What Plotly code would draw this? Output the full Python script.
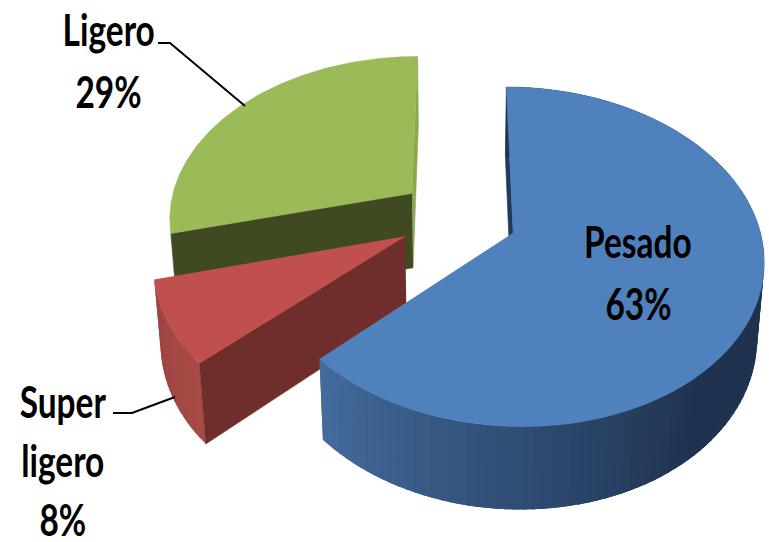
import numpy as np
import plotly.graph_objects as go

# Chart data
categories = ["Pesado", "Super ligero", "Ligero"]
percent = [63, 8, 29]
label_lines = [["Pesado"], ["Super", "ligero"], ["Ligero"]]

top_colors = ["#4f81bd", "#c0504d", "#9bbb59"]
inner_colors = ["#1f3a5c", "#6f2d2b", "#3f4922"]
edge_colors = ["#1f3a5c", "#6f2d2b", "#8aa84e"]

# Camera used to project the exploded disc onto the page
CX, CY = 458.0, 217.0
RX, RY, DEPTH = 244.0, 162.0, 77.0
K_Y, K_Z = 0.139, 0.0226
EXPLODE = 0.243


def project(xw, yw, z):
    w = 1 + K_Y * yw + K_Z * z
    return CX + RX * xw / w, CY + (-RY * yw + DEPTH * z) / w


def polygon(xs, ys, color, width=0.6):
    return go.Scatter(x=xs, y=ys, mode="lines", fill="toself", fillcolor=color,
                      line=dict(color=color, width=width), hoverinfo="skip",
                      showlegend=False)


def mix(a, b, t):
    ca = [int(a[i:i + 2], 16) for i in (1, 3, 5)]
    cb = [int(b[i:i + 2], 16) for i in (1, 3, 5)]
    return "rgb({},{},{})".format(*[round(p + (q - p) * t) for p, q in zip(ca, cb)])


# Slice angles, clockwise from the far side of the disc
total = sum(percent)
edges = np.concatenate([[0], np.cumsum(percent)]) / total * 2 * np.pi
spans = [(edges[i], edges[i + 1]) for i in range(len(percent))]


def slice_point(i, theta, radius, z):
    mid = sum(spans[i]) / 2
    xw = radius * np.sin(theta) + EXPLODE * np.sin(mid)
    yw = radius * np.cos(theta) + EXPLODE * np.cos(mid)
    return project(xw, yw, z)


def radial_face(i, theta, color):
    pts = [slice_point(i, theta, r, z) for r, z in [(0, 0), (1, 0), (1, 1), (0, 1)]]
    return polygon([p[0] for p in pts], [p[1] for p in pts], color)


def rim(i, shade):
    # Each band runs on under the next one so the seams stay closed
    start, end = spans[i]
    steps = np.linspace(start, end, int((end - start) * 30) + 2)
    gap = steps[1] - steps[0]
    quads = []
    for a in steps[:-1]:
        b = min(a + 2.2 * gap, end)
        pts = [slice_point(i, a, 1, 0), slice_point(i, b, 1, 0),
               slice_point(i, b, 1, 1), slice_point(i, a, 1, 1)]
        quads.append(polygon([p[0] for p in pts], [p[1] for p in pts], shade(a + gap / 2), 0))
    return quads


def top_face(i):
    start, end = spans[i]
    steps = np.linspace(start, end, 120)
    pts = [slice_point(i, 0, 0, 0)] + [slice_point(i, t, 1, 0) for t in steps]
    return polygon([p[0] for p in pts], [p[1] for p in pts], top_colors[i])


def blue_shade(theta):
    t = np.clip((spans[0][1] - theta) / np.radians(88), 0, 1)
    return mix("#446d9f", "#1f3350", t)


def red_shade(theta):
    t = np.clip((spans[1][1] - theta) / (spans[1][1] - spans[1][0]), 0, 1)
    return mix("#9c4441", "#a84a46", t)


traces = []
# Ligero
traces.append(radial_face(2, spans[2][1], edge_colors[2]))
traces.append(radial_face(2, spans[2][0], inner_colors[2]))
traces.append(top_face(2))
# Super ligero
traces.extend(rim(1, red_shade))
traces.append(radial_face(1, spans[1][0], inner_colors[1]))
traces.append(top_face(1))
# Pesado
traces.append(radial_face(0, spans[0][0], inner_colors[0]))
traces.extend(rim(0, blue_shade)[::-1])
traces.append(top_face(0))

# Leader lines for the labels set outside the pie
leaders_x = [[158, 170, 245], [113, 132, 175]]
leaders_y = [[43, 43, 106], [413, 413, 397]]
for lx, ly in zip(leaders_x, leaders_y):
    traces.append(go.Scatter(x=lx, y=ly, mode="lines", hoverinfo="skip", showlegend=False,
                             line=dict(color="black", width=2)))

FONT = dict(family="Lato", size=44, color="black", weight="bold")

label_anchor = [(638, 241, 62), (63, 401, 59), (108, 29, 62)]
annotations = []
for lines, pct, (ax, ay, step) in zip(label_lines, percent, label_anchor):
    for n, text in enumerate(lines + [f"{pct}%"]):
        annotations.append(dict(x=ax, y=ay + n * step, text=text, showarrow=False,
                                xanchor="center", yanchor="middle", font=FONT))

fig = go.Figure(traces)
fig.update_layout(
    width=769, height=542, margin=dict(l=0, r=0, t=0, b=0),
    paper_bgcolor="white", plot_bgcolor="white", annotations=annotations,
    xaxis=dict(range=[0, 769], visible=False, fixedrange=True),
    yaxis=dict(range=[542, 0], visible=False, fixedrange=True),
)

# Narrow the label glyphs horizontally around each label's own centre
condense = """
function condense() {
  document.querySelectorAll('.annotation-text').forEach(function (t) {
    var b = t.getBBox(), c = b.x + b.width / 2;
    t.setAttribute('transform', 'translate(' + c + ' 0) scale(0.76 1) translate(' + (-c) + ' 0)');
  });
}
condense();
setTimeout(condense, 0);
document.fonts && document.fonts.ready.then(condense);
"""
fig.write_html("out.html", config=dict(displayModeBar=False), post_script=condense)
